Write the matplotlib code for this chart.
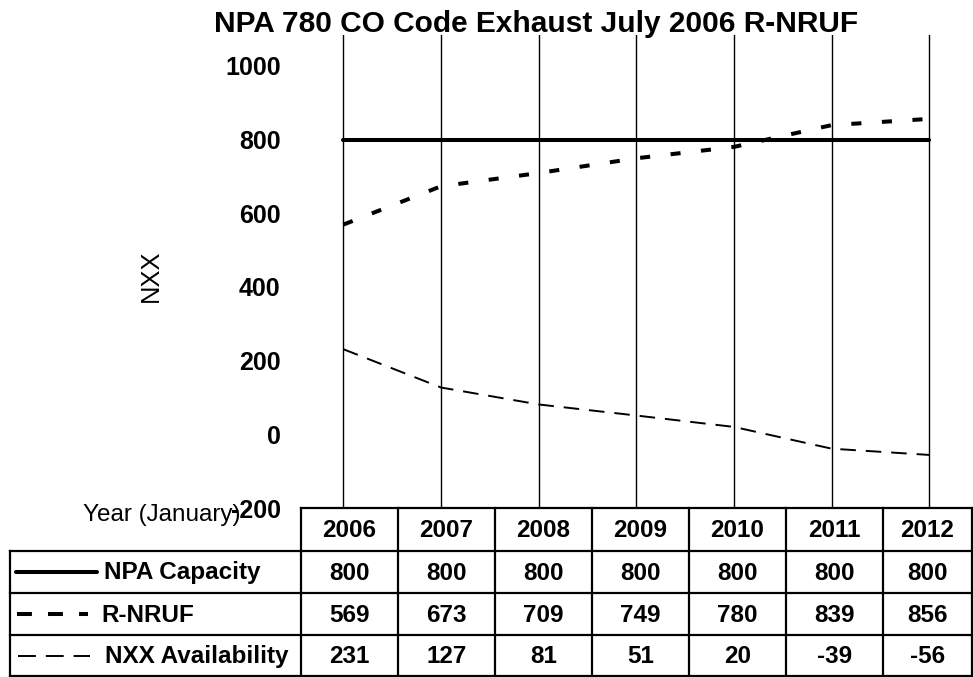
import matplotlib
matplotlib.use("Agg")
import matplotlib.pyplot as plt

plt.rcParams['font.family'] = ['Liberation Sans', 'DejaVu Sans']
plt.rcParams['axes.unicode_minus'] = False

# ---- data ----
years = ['2006', '2007', '2008', '2009', '2010', '2011', '2012']
npa_capacity = [800, 800, 800, 800, 800, 800, 800]
r_nruf = [569, 673, 709, 749, 780, 839, 856]
nxx_availability = [231, 127, 81, 51, 20, -39, -56]
series_names = ['NPA Capacity', 'R-NRUF', 'NXX Availability']
y_ticks = [-200, 0, 200, 400, 600, 800, 1000]

W, H = 973, 677
fig = plt.figure(figsize=(W / 100, H / 100), dpi=100)

# plot axes (pixel geometry)
ax_l, ax_r, ax_t, ax_b = 300, 973, 35, 508
ax = fig.add_axes([ax_l / W, (H - ax_b) / H, (ax_r - ax_l) / W, (ax_b - ax_t) / H])
step = 97.67
x0 = 343.3
ax.set_xlim((ax_l - x0) / step, (ax_r - x0) / step)
px_per_unit = 73.7 / 200
ax.set_ylim(-200, -200 + (ax_b - ax_t) / px_per_unit)
for s in ax.spines.values():
    s.set_visible(False)
ax.set_xticks(range(len(years)))
ax.set_xticklabels([])
ax.tick_params(axis='x', length=0)
ax.grid(axis='x', color='black', linewidth=1.0)
ax.set_yticks(y_ticks)
ax.set_yticklabels([str(v) for v in y_ticks], fontsize=18, fontweight='bold')
ax.tick_params(axis='y', length=0, pad=14)
ax.set_axisbelow(True)

xs = list(range(len(years)))
lw_thick = 2.9
lw_thin = 1.4
ax.plot(xs, npa_capacity, color='black', linewidth=lw_thick, solid_capstyle='round')
ax.plot(xs, r_nruf, color='black', linewidth=lw_thick, dashes=(2.5, 5.1), dash_capstyle='butt')
ax.plot(xs, nxx_availability, color='black', linewidth=lw_thin, dashes=(8.0, 5.1), dash_capstyle='butt')

# overlay for title, labels and table (pixel coords)
ov = fig.add_axes([0, 0, 1, 1], zorder=5)
ov.set_xlim(0, W)
ov.set_ylim(H, 0)
ov.axis('off')
ov.patch.set_alpha(0)

ov.text(536, 32, 'NPA 780 CO Code Exhaust July 2006 R-NRUF', ha='center', va='baseline',
        fontsize=21.5, fontweight='bold')
ov.text(151, 276, 'NXX', rotation=90, ha='center', va='center', fontsize=18.4)
ov.text(83, 515, 'Year (January)', ha='left', va='center', fontsize=17.5)

# table geometry
col_edges = [301, 398, 495, 592, 689, 786, 883, 972]
row_edges = [508, 551, 593, 635, 676]
left_edge = 10
tlw = 1.6

ov.plot([col_edges[0], col_edges[-1]], [row_edges[0], row_edges[0]], color='black', lw=tlw)
for r in row_edges[1:]:
    ov.plot([left_edge, col_edges[-1]], [r, r], color='black', lw=tlw)
for c in col_edges:
    ov.plot([c, c], [row_edges[0], row_edges[-1]], color='black', lw=tlw)
ov.plot([left_edge, left_edge], [row_edges[1], row_edges[-1]], color='black', lw=tlw)

for i, yr in enumerate(years):
    cx = (col_edges[i] + col_edges[i + 1]) / 2
    ov.text(cx, (row_edges[0] + row_edges[1]) / 2 + 1, yr, ha='center', va='center',
            fontsize=17.5, fontweight='bold')

rows = [npa_capacity, r_nruf, nxx_availability]
styles = [dict(lw=lw_thick, solid_capstyle='round'),
          dict(lw=lw_thick, dashes=(3.7, 4.0), dash_capstyle='butt'),
          dict(lw=lw_thin, dashes=(9.2, 5.1), dash_capstyle='butt')]
key_ranges = [(16, 97), (17, 88), (18, 90)]
text_x = [104, 101, 105]
for ri, (vals, name) in enumerate(zip(rows, series_names)):
    cy = (row_edges[ri + 1] + row_edges[ri + 2]) / 2 + 1
    for i, v in enumerate(vals):
        cx = (col_edges[i] + col_edges[i + 1]) / 2
        ov.text(cx, cy, str(v), ha='center', va='center', fontsize=17.5, fontweight='bold')
    k0, k1 = key_ranges[ri]
    ov.plot([k0, k1], [cy - 1, cy - 1], color='black', **styles[ri])
    ov.text(text_x[ri], cy, name, ha='left', va='center', fontsize=17.5, fontweight='bold')

fig.savefig('out.png', dpi=100)
